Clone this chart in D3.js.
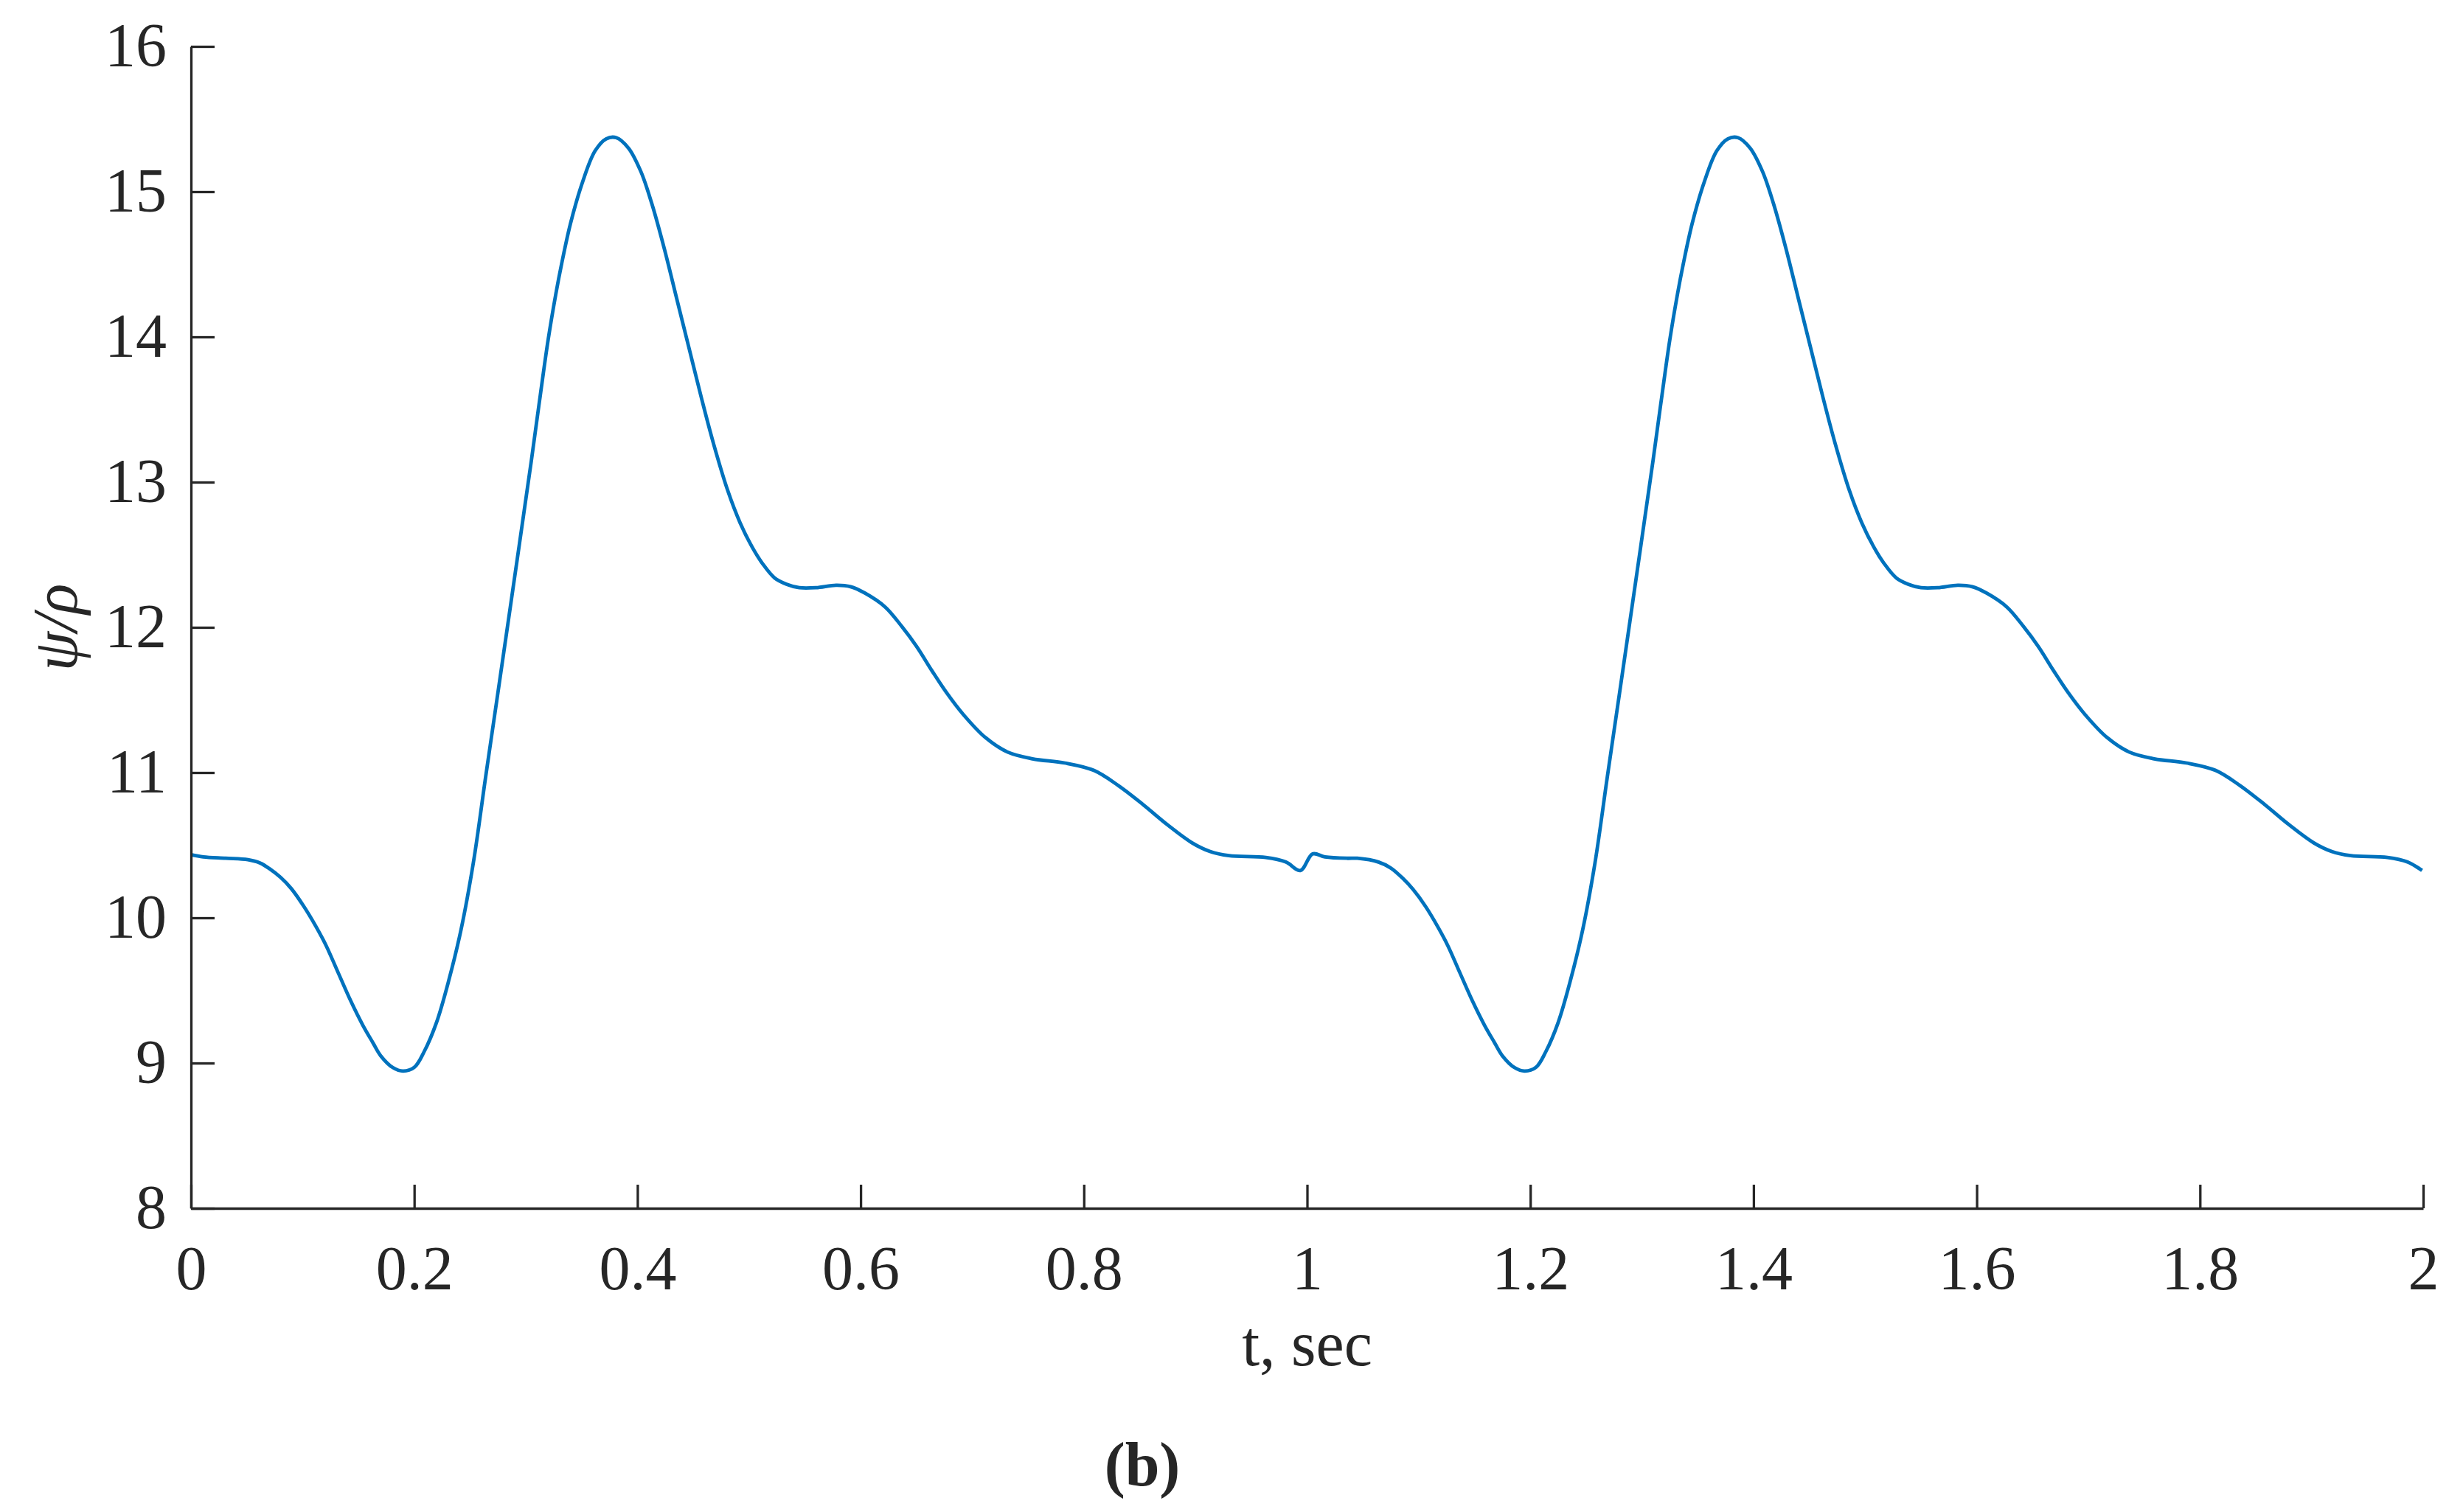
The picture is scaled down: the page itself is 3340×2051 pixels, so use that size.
<!DOCTYPE html>
<html>
<head>
<meta charset="utf-8">
<script src="https://cdn.jsdelivr.net/npm/d3@7"></script>
<style>
  body { margin: 0; background: #fff; }
  svg text { font-family: "Liberation Serif", "Times New Roman", serif; fill: #262626; }
</style>
</head>
<body>
<div id="chart"></div>
<script>
// first cycle (t in sec, psi/rho)
const cycle1T = [0.000, 0.011, 0.031, 0.051, 0.062, 0.070, 0.080, 0.090, 0.101, 0.112,
    0.121, 0.132, 0.143, 0.154, 0.163, 0.170, 0.181, 0.190, 0.200, 0.209,
    0.220, 0.231, 0.242, 0.253, 0.264, 0.275, 0.291, 0.305, 0.313, 0.320,
    0.327, 0.332, 0.340, 0.351, 0.362, 0.372, 0.381, 0.392, 0.403, 0.413,
    0.424, 0.435, 0.446, 0.457, 0.468, 0.481, 0.492, 0.503, 0.512, 0.523,
    0.534, 0.545, 0.560, 0.578, 0.591, 0.604, 0.622, 0.637, 0.650, 0.664,
    0.677, 0.692, 0.712, 0.732, 0.754, 0.783, 0.809, 0.831, 0.853, 0.875,
    0.897, 0.913, 0.930, 0.963, 0.981, 0.994];
const cycle1V = [10.435, 10.42, 10.41, 10.40, 10.377, 10.34, 10.28, 10.20, 10.08, 9.94,
    9.81, 9.62, 9.43, 9.26, 9.14, 9.05, 8.968, 8.945, 8.97, 9.08,
    9.28, 9.57, 9.92, 10.38, 10.97, 11.55, 12.40, 13.15, 13.60, 13.98,
    14.30, 14.50, 14.78, 15.07, 15.28, 15.364, 15.372, 15.30, 15.14, 14.915,
    14.61, 14.27, 13.93, 13.59, 13.27, 12.94, 12.72, 12.55, 12.44, 12.34,
    12.296, 12.273, 12.273, 12.29, 12.28, 12.235, 12.14, 12.005, 11.87, 11.70,
    11.55, 11.40, 11.24, 11.14, 11.095, 11.066, 11.015, 10.91, 10.78, 10.64,
    10.516, 10.457, 10.428, 10.415, 10.384, 10.326];

// second cycle
const cycle2T = [1.005, 1.016, 1.036, 1.045, 1.064, 1.075, 1.086, 1.095, 1.106, 1.117,
    1.126, 1.137, 1.148, 1.159, 1.168, 1.175, 1.186, 1.195, 1.205, 1.214,
    1.225, 1.236, 1.247, 1.258, 1.269, 1.280, 1.296, 1.310, 1.318, 1.325,
    1.332, 1.337, 1.345, 1.356, 1.367, 1.377, 1.386, 1.397, 1.408, 1.418,
    1.429, 1.440, 1.451, 1.462, 1.473, 1.486, 1.497, 1.508, 1.517, 1.528,
    1.539, 1.550, 1.565, 1.583, 1.596, 1.609, 1.627, 1.642, 1.655, 1.669,
    1.682, 1.697, 1.717, 1.737, 1.759, 1.788, 1.814, 1.836, 1.858, 1.880,
    1.902, 1.918, 1.935, 1.968, 1.986, 1.999];
const cycle2V = [10.44, 10.42, 10.41, 10.41, 10.384, 10.343, 10.27, 10.195, 10.08, 9.94,
    9.81, 9.62, 9.43, 9.26, 9.14, 9.05, 8.968, 8.945, 8.97, 9.08,
    9.28, 9.57, 9.92, 10.38, 10.97, 11.55, 12.40, 13.15, 13.60, 13.98,
    14.30, 14.50, 14.78, 15.07, 15.28, 15.364, 15.372, 15.30, 15.14, 14.915,
    14.61, 14.27, 13.93, 13.59, 13.27, 12.94, 12.72, 12.55, 12.44, 12.34,
    12.296, 12.273, 12.273, 12.29, 12.28, 12.235, 12.14, 12.005, 11.87, 11.70,
    11.55, 11.40, 11.24, 11.14, 11.095, 11.066, 11.015, 10.91, 10.78, 10.64,
    10.516, 10.457, 10.428, 10.415, 10.384, 10.326];

const xTicks = [0, 0.2, 0.4, 0.6, 0.8, 1, 1.2, 1.4, 1.6, 1.8, 2];
const yTicks = [8, 9, 10, 11, 12, 13, 14, 15, 16];

const W = 3340, H = 2051;
const margin = {top: 63, right: 54, bottom: 412, left: 259};
const width = W - margin.left - margin.right;
const height = H - margin.top - margin.bottom;

const svg = d3.select("#chart").append("svg")
    .attr("width", W)
    .attr("height", H);

const g = svg.append("g")
    .attr("transform", `translate(${margin.left},${margin.top})`);

// scales
const x = d3.scaleLinear().domain([0, 2]).range([0, width]);
const y = d3.scaleLinear().domain([8, 16]).range([height, 0]);

// join both cycles into one series
const points = cycle1T.map((t, i) => [t, cycle1V[i]])
    .concat(cycle2T.map((t, i) => [t, cycle2V[i]]));

const line = d3.line()
    .x(d => x(d[0]))
    .y(d => y(d[1]))
    .curve(d3.curveCatmullRom.alpha(0.5));

g.append("path")
    .datum(points)
    .attr("fill", "none")
    .attr("stroke", "#0072BD")
    .attr("stroke-width", 4.8)
    .attr("stroke-linejoin", "round")
    .attr("d", line);

// axes, ticks pointing inwards
const xAxis = g.append("g")
    .attr("transform", `translate(0,${height})`)
    .call(d3.axisBottom(x).tickValues(xTicks).tickFormat(d3.format("")).tickSizeInner(-32).tickSizeOuter(0).tickPadding(50));

const yAxis = g.append("g")
    .call(d3.axisLeft(y).tickValues(yTicks).tickFormat(d3.format("d")).tickSizeInner(-32).tickSizeOuter(0).tickPadding(33));

[xAxis, yAxis].forEach(ax => {
    ax.selectAll("path, line")
        .attr("stroke", "#262626")
        .attr("stroke-width", 3.3);
    ax.selectAll("text")
        .style("font-family", "'Liberation Serif', 'Times New Roman', serif")
        .style("font-size", "84px")
        .attr("fill", "#262626");
});

// axis titles
svg.append("text")
    .attr("x", margin.left + width / 2)
    .attr("y", 1852)
    .attr("text-anchor", "middle")
    .style("font-size", "86px")
    .text("t, sec");

svg.append("text")
    .attr("transform", "translate(104,851) rotate(-90)")
    .attr("text-anchor", "middle")
    .style("font-size", "86px")
    .style("font-style", "italic")
    .text("ψ/ρ");

svg.append("text")
    .attr("x", 1549)
    .attr("y", 2015)
    .attr("text-anchor", "middle")
    .style("font-size", "84px")
    .style("font-weight", "bold")
    .text("(b)");
</script>
</body>
</html>
